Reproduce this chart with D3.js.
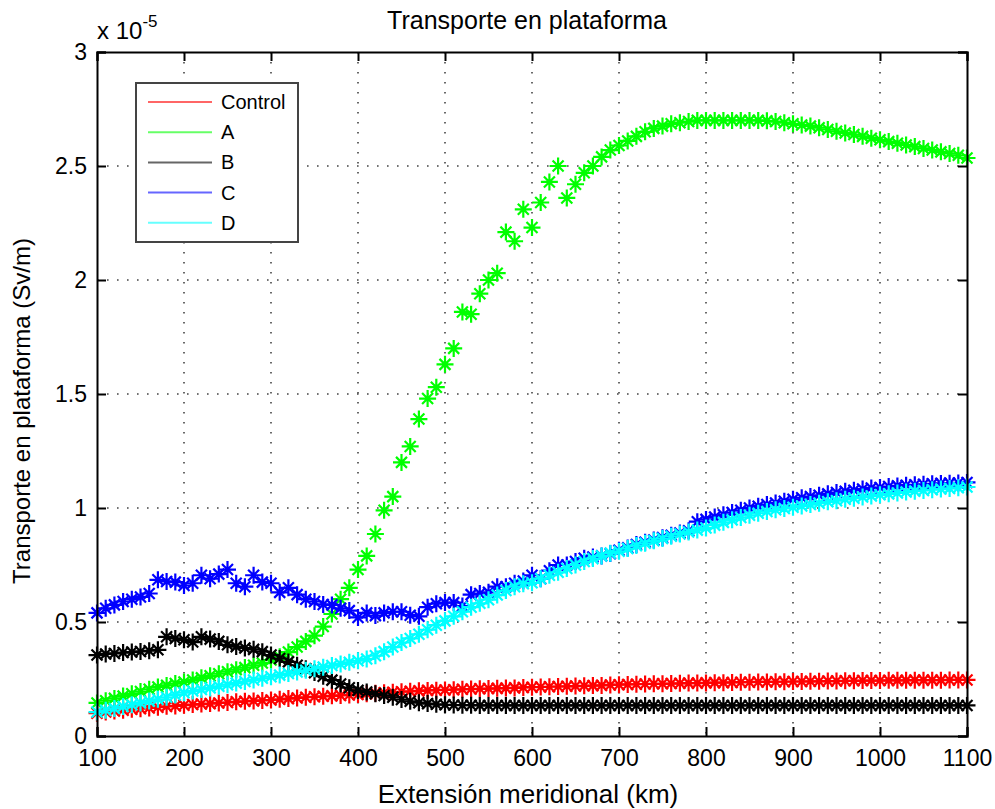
<!DOCTYPE html>
<html>
<head>
<meta charset="utf-8">
<script src="https://cdn.jsdelivr.net/npm/d3@7"></script>
<style>
  body { margin: 0; background: #fff; }
  text { font-family: "Liberation Sans", Arial, sans-serif; fill: #000; }
</style>
</head>
<body>
<script>
// x positions (km) of every sample, 100 .. 1100 every 10 km
var xs = d3.range(100, 1101, 10);

var names = ["Control", "A", "B", "C", "D"];
var colors = ["#ff0000", "#00ff00", "#000000", "#0000ff", "#00ffff"];

// values in units of 1e-5 Sv/m
var control = [0.100,0.105,0.110,0.113,0.117,0.120,0.123,0.126,0.130,0.132,
  0.135,0.138,0.140,0.142,0.145,0.147,0.150,0.152,0.154,0.156,
  0.158,0.161,0.164,0.167,0.170,0.172,0.174,0.176,0.178,0.180,
  0.182,0.185,0.188,0.190,0.192,0.194,0.196,0.198,0.200,0.201,
  0.202,0.203,0.205,0.206,0.207,0.208,0.209,0.210,0.211,0.213,
  0.214,0.215,0.216,0.217,0.218,0.219,0.220,0.221,0.222,0.224,
  0.225,0.226,0.227,0.228,0.229,0.229,0.230,0.231,0.232,0.232,
  0.233,0.234,0.234,0.235,0.236,0.236,0.237,0.237,0.238,0.238,
  0.239,0.239,0.240,0.240,0.241,0.241,0.242,0.242,0.243,0.243,
  0.243,0.244,0.244,0.244,0.245,0.245,0.245,0.245,0.246,0.246,
  0.246];

var serieA = [0.145,0.155,0.165,0.175,0.185,0.195,0.205,0.215,0.222,0.230,
  0.237,0.246,0.255,0.264,0.273,0.282,0.291,0.300,0.310,0.320,
  0.333,0.348,0.368,0.390,0.415,0.440,0.480,0.535,0.600,0.650,
  0.730,0.790,0.886,0.990,1.050,1.200,1.270,1.390,1.480,1.530,
  1.630,1.700,1.860,1.850,1.940,2.000,2.030,2.210,2.170,2.310,
  2.230,2.340,2.430,2.500,2.360,2.420,2.470,2.500,2.540,2.570,
  2.590,2.610,2.630,2.650,2.665,2.675,2.685,2.690,2.695,2.700,
  2.700,2.700,2.700,2.700,2.700,2.700,2.700,2.698,2.695,2.690,
  2.685,2.680,2.675,2.668,2.660,2.652,2.645,2.638,2.630,2.622,
  2.615,2.607,2.600,2.592,2.585,2.577,2.570,2.562,2.555,2.547,
  2.535];

var serieB = [0.355,0.360,0.362,0.366,0.368,0.371,0.374,0.378,0.435,0.428,
  0.422,0.412,0.435,0.425,0.415,0.400,0.392,0.386,0.380,0.370,
  0.355,0.340,0.325,0.310,0.295,0.278,0.262,0.245,0.228,0.212,
  0.200,0.193,0.185,0.178,0.170,0.160,0.152,0.146,0.142,0.139,
  0.137,0.136,0.135,0.135,0.134,0.134,0.134,0.134,0.134,0.134,
  0.134,0.134,0.134,0.134,0.134,0.134,0.134,0.134,0.134,0.134,
  0.134,0.134,0.134,0.134,0.134,0.134,0.134,0.134,0.134,0.134,
  0.134,0.134,0.134,0.134,0.134,0.134,0.134,0.134,0.134,0.134,
  0.134,0.134,0.134,0.134,0.134,0.134,0.134,0.134,0.134,0.134,
  0.134,0.134,0.134,0.134,0.134,0.134,0.134,0.134,0.134,0.134,
  0.134];

var serieC = [0.540,0.560,0.575,0.590,0.600,0.610,0.625,0.685,0.678,0.675,
  0.660,0.670,0.705,0.690,0.710,0.730,0.670,0.655,0.705,0.675,
  0.670,0.630,0.650,0.620,0.600,0.590,0.577,0.575,0.560,0.550,
  0.520,0.540,0.528,0.540,0.545,0.545,0.530,0.525,0.565,0.580,
  0.585,0.585,0.570,0.620,0.625,0.630,0.655,0.655,0.670,0.680,
  0.705,0.690,0.725,0.750,0.750,0.765,0.780,0.785,0.790,0.800,
  0.815,0.825,0.840,0.850,0.860,0.870,0.880,0.890,0.900,0.940,
  0.950,0.960,0.970,0.980,0.990,1.000,1.008,1.015,1.022,1.030,
  1.038,1.045,1.050,1.056,1.062,1.068,1.073,1.078,1.083,1.088,
  1.090,1.094,1.097,1.100,1.102,1.104,1.106,1.108,1.109,1.110,
  1.112];

var serieD = [0.105,0.113,0.121,0.129,0.137,0.145,0.153,0.161,0.170,0.180,
  0.190,0.197,0.204,0.211,0.218,0.225,0.232,0.239,0.246,0.253,
  0.260,0.267,0.274,0.281,0.288,0.295,0.302,0.309,0.316,0.323,
  0.330,0.338,0.352,0.370,0.390,0.410,0.428,0.446,0.466,0.486,
  0.505,0.525,0.545,0.565,0.582,0.598,0.618,0.638,0.655,0.668,
  0.672,0.690,0.705,0.718,0.735,0.750,0.765,0.778,0.790,0.802,
  0.810,0.822,0.835,0.845,0.856,0.866,0.876,0.886,0.895,0.903,
  0.912,0.925,0.937,0.948,0.958,0.968,0.977,0.985,0.992,0.998,
  1.003,1.009,1.015,1.021,1.027,1.032,1.038,1.043,1.048,1.053,
  1.058,1.062,1.066,1.070,1.074,1.077,1.080,1.083,1.086,1.089,
  1.092];

var xTicks = [100, 200, 300, 400, 500, 600, 700, 800, 900, 1000, 1100];
var yTicks = [0, 0.5, 1, 1.5, 2, 2.5, 3];

var allSeries = [control, serieA, serieB, serieC, serieD];

var width = 995, height = 809;
var pLeft = 97, pTop = 52, pRight = 967, pBottom = 736;

var svg = d3.select("body").append("svg")
    .attr("width", width)
    .attr("height", height);

var x = d3.scaleLinear().domain([100, 1100]).range([pLeft, pRight]);
var y = d3.scaleLinear().domain([0, 3]).range([pBottom, pTop]);

// dotted grid
var grid = svg.append("g");
grid.selectAll("line.gx")
    .data(xTicks.slice(1, -1))
    .enter().append("line")
    .attr("x1", d => x(d)).attr("x2", d => x(d))
    .attr("y1", pTop).attr("y2", pBottom)
    .attr("stroke", "#444").attr("stroke-width", 1.6)
    .attr("stroke-dasharray", "1.6,8.4");
grid.selectAll("line.gy")
    .data(yTicks.slice(1, -1))
    .enter().append("line")
    .attr("x1", pLeft).attr("x2", pRight)
    .attr("y1", d => y(d)).attr("y2", d => y(d))
    .attr("stroke", "#444").attr("stroke-width", 1.6)
    .attr("stroke-dasharray", "1.6,8.4");

// series: asterisk markers only
function star() {
  var a = 8.5, b = 5.5;
  return "M" + (-a) + ",0L" + a + ",0M0," + (-a) + "L0," + a +
    "M" + (-b) + "," + (-b) + "L" + b + "," + b +
    "M" + (-b) + "," + b + "L" + b + "," + (-b);
}

allSeries.forEach(function(vals, k) {
  var g = svg.append("g");
  g.selectAll("path.m")
      .data(vals)
      .enter().append("path")
      .attr("transform", (d, i) => "translate(" + x(xs[i]) + "," + y(d) + ")")
      .attr("d", star())
      .attr("stroke", colors[k])
      .attr("stroke-width", 2.2);
});

// axes box
var xAxisB = d3.axisBottom(x).tickValues(xTicks).tickSize(-9).tickPadding(14).tickFormat(d3.format("d"));
var xAxisT = d3.axisTop(x).tickValues(xTicks).tickSize(-9).tickFormat("");
var yAxisL = d3.axisLeft(y).tickValues(yTicks).tickSize(-9).tickPadding(10).tickFormat(d3.format("~g"));
var yAxisR = d3.axisRight(y).tickValues(yTicks).tickSize(-9).tickFormat("");

function styleAxis(g) {
  g.select(".domain").attr("stroke", "#000").attr("stroke-width", 2);
  g.selectAll(".tick line").attr("stroke", "#000").attr("stroke-width", 2);
  g.selectAll(".tick text").style("font-size", "23px");
}

svg.append("g").attr("transform", "translate(0," + pBottom + ")").call(xAxisB).call(styleAxis);
svg.append("g").attr("transform", "translate(0," + pTop + ")").call(xAxisT).call(styleAxis);
svg.append("g").attr("transform", "translate(" + pLeft + ",0)").call(yAxisL).call(styleAxis);
svg.append("g").attr("transform", "translate(" + pRight + ",0)").call(yAxisR).call(styleAxis);

// exponent
var ex = svg.append("text").attr("x", 97).attr("y", 39).style("font-size", "24px");
ex.append("tspan").text("x 10");
ex.append("tspan").attr("dy", -12).style("font-size", "17px").text("-5");

// title and labels
svg.append("text")
    .attr("x", 527).attr("y", 29)
    .attr("text-anchor", "middle")
    .style("font-size", "25px")
    .text("Transporte en plataforma");

svg.append("text")
    .attr("x", 528).attr("y", 803)
    .attr("text-anchor", "middle")
    .style("font-size", "26px")
    .text("Extensión meridional (km)");

svg.append("text")
    .attr("transform", "translate(30,411) rotate(-90)")
    .attr("text-anchor", "middle")
    .style("font-size", "24px")
    .text("Transporte en plataforma (Sv/m)");

// legend
var lg = svg.append("g").attr("transform", "translate(136,83)");
lg.append("rect")
    .attr("width", 162).attr("height", 159)
    .attr("fill", "#fff")
    .attr("stroke", "#444").attr("stroke-width", 2);
names.forEach(function(n, k) {
  var yy = 19 + k * 30.2;
  lg.append("line")
      .attr("x1", 12).attr("x2", 76)
      .attr("y1", yy).attr("y2", yy)
      .attr("stroke", colors[k]).attr("stroke-width", 2).attr("stroke-opacity", 0.6);
  lg.append("text")
      .attr("x", 85).attr("y", yy + 7)
      .style("font-size", "20px")
      .text(n);
});
</script>
</body>
</html>
